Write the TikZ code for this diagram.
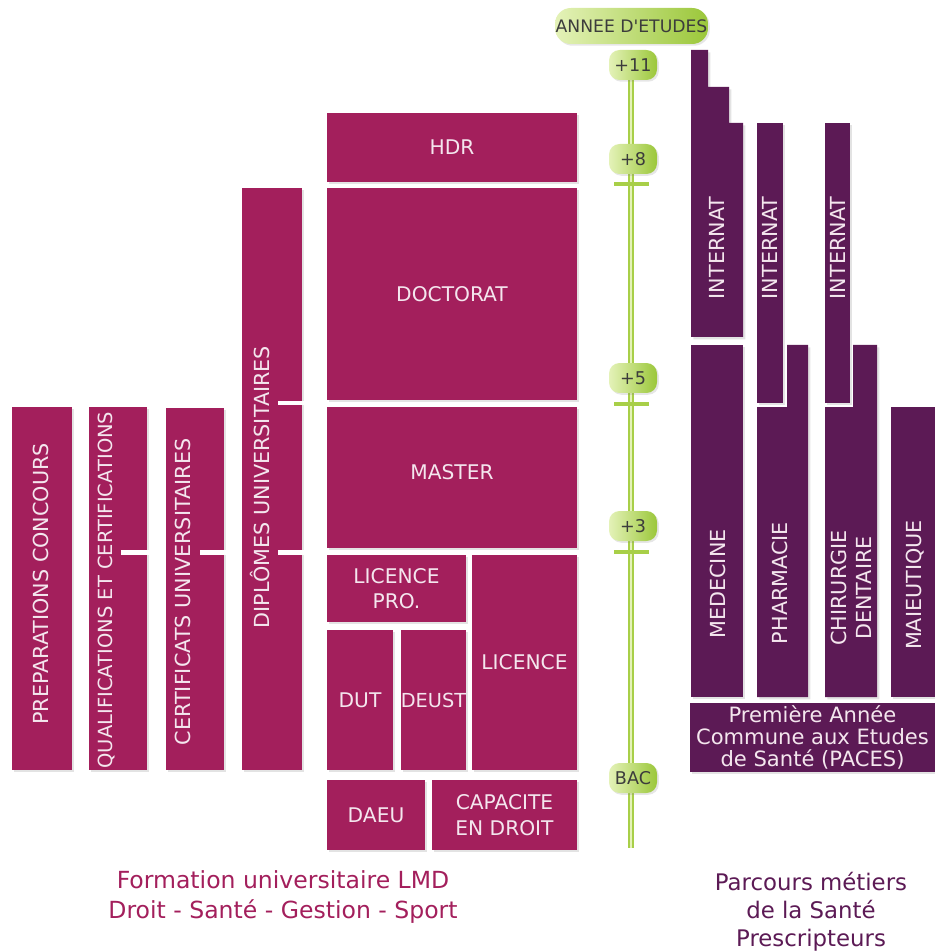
\documentclass[tikz,border=0pt]{standalone}
\usepackage{fontspec}
\setmainfont{DejaVu Sans}[Ligatures=TeXOff]
\usetikzlibrary{shadows,backgrounds}

\definecolor{lmdpink}{HTML}{A31F5C}
\definecolor{santepurple}{HTML}{5C1A55}
\definecolor{axisgreen}{HTML}{A8CF48}
\definecolor{pilllight}{HTML}{E4F2B8}
\definecolor{pilldark}{HTML}{9BC73A}
\definecolor{boxtext}{HTML}{F4E6EE}
\definecolor{pilltext}{HTML}{3C3C3C}

\begin{document}
\begin{tikzpicture}[x=0.02cm, y=-0.02cm,
  shade box/.style={drop shadow={shadow xshift=1.3pt, shadow yshift=-1.3pt, opacity=0.22}},
  lmd/.style={rectangle, fill=lmdpink, inner sep=0pt, outer sep=0pt, shade box,
    text=boxtext, align=center, font=\fontsize{11.5}{14.5}\selectfont},
  sante/.style={rectangle, fill=santepurple, inner sep=0pt, outer sep=0pt, shade box},
  upword/.style={rotate=90, text=boxtext, inner sep=0pt, align=center,
    font=\fontsize{11.8}{14}\selectfont},
  pill/.style={rectangle, rounded corners=6pt, left color=pilllight, right color=pilldark,
    text=pilltext, inner sep=0pt, minimum width=0.96cm, minimum height=0.6cm,
    font=\fontsize{10}{11}\selectfont, drop shadow={shadow xshift=1pt, shadow yshift=-1pt, opacity=0.2}},
  tick/.style={rectangle, fill=axisgreen, inner sep=0pt, minimum width=0.7cm, minimum height=0.08cm},
  notch/.style={fill=white}]
\useasboundingbox (0,0) rectangle (935,952);

% formation LMD, left columns
\node (prep) at (42,588.5) [lmd, minimum width=1.2cm, minimum height=7.26cm] {};
\node (prepl) at (41,584) [upword] {PREPARATIONS CONCOURS};

\node (qualif) at (118,588.5) [lmd, minimum width=1.16cm, minimum height=7.26cm] {};
\node (qualifl) at (107,590) [upword, font=\fontsize{11.1}{13}\selectfont] {QUALIFICATIONS ET CERTIFICATIONS};
\fill[notch] (121,550) rectangle (152,555);

\node (certif) at (195,589) [lmd, minimum width=1.16cm, minimum height=7.24cm] {};
\node (certifl) at (183,592) [upword] {CERTIFICATS UNIVERSITAIRES};
\fill[notch] (200,550) rectangle (229,555);

\node (dipl) at (272,479) [lmd, minimum width=1.2cm, minimum height=11.64cm] {};
\node (dipll) at (260,487) [upword] {DIPLÔMES UNIVERSITAIRES};
\fill[notch] (278,401) rectangle (307,405);
\fill[notch] (278,550) rectangle (307,555);

% LMD main column
\node (hdr) at (452,147.5) [lmd, minimum width=5cm, minimum height=1.38cm] {HDR};
\node (doct) at (452,294) [lmd, minimum width=5cm, minimum height=4.24cm] {DOCTORAT};
\node (master) at (452,477.5) [lmd, minimum width=5cm, minimum height=2.82cm] {\raisebox{6pt}{MASTER}};
\node (licpro) at (396.5,588.5) [lmd, minimum width=2.78cm, minimum height=1.34cm] {LICENCE\\PRO.};
\node (dut) at (360,700) [lmd, minimum width=1.32cm, minimum height=2.8cm] {\raisebox{-8pt}{DUT}};
\node (deust) at (433.5,700) [lmd, minimum width=1.3cm, minimum height=2.8cm,
  font=\fontsize{11}{13}\selectfont] {\raisebox{-8pt}{DEUST}};
\node (licence) at (524.5,662.5) [lmd, minimum width=2.1cm, minimum height=4.3cm] {LICENCE};
\node (daeu) at (376,815) [lmd, minimum width=1.96cm, minimum height=1.4cm] {DAEU};
\node (capa) at (504.5,815) [lmd, minimum width=2.9cm, minimum height=1.4cm] {CAPACITE\\EN DROIT};

% annees d'etudes
\node (annee) at (631.5,26) [pill, rounded corners=9pt, minimum width=3.06cm, minimum height=0.72cm,
  font=\fontsize{9.8}{11}\selectfont] {ANNEE D'ETUDES};
\node (p11) at (633,65) [pill] {+11};
\node (p8) at (633,159) [pill] {+8};
\node (p5) at (633,378) [pill] {+5};
\node (p3) at (633,526) [pill] {+3};
\node (bac) at (633,778) [pill] {BAC};
\coordinate (axisend) at (631,848);
\begin{scope}[on background layer]
  \draw[axisgreen, line width=3pt] (p11.south -| axisend) -- (axisend);
  \draw[pilllight, line width=0.7pt] (p11.south -| axisend) -- (axisend);
\end{scope}
\node (t8) at (631,184) [tick] {};
\node (t5) at (631,404) [tick] {};
\node (t3) at (631,552) [tick] {};

% parcours sante
\fill[santepurple, shade box] (691,50) -- (708,50) -- (708,87) -- (729,87) -- (729,123)
  -- (743,123) -- (743,337) -- (691,337) -- cycle;
\node (intern1) at (717,248) [upword] {INTERNAT};
\node (medecine) at (717,521) [sante, minimum width=1.04cm, minimum height=7.04cm] {};
\node (medecinel) at (718,584) [upword] {MEDECINE};

\node (intern2) at (770,263) [sante, minimum width=0.52cm, minimum height=5.6cm] {};
\node (intern2l) at (770,248) [upword] {INTERNAT};
\fill[santepurple, shade box] (787,345) -- (808,345) -- (808,697) -- (757,697) -- (757,407)
  -- (787,407) -- cycle;
\node (pharma) at (780,583) [upword] {PHARMACIE};

\node (intern3) at (837.5,263) [sante, minimum width=0.5cm, minimum height=5.6cm] {};
\node (intern3l) at (838,248) [upword] {INTERNAT};
\fill[santepurple, shade box] (853,345) -- (877,345) -- (877,697) -- (825,697) -- (825,407)
  -- (853,407) -- cycle;
\node (chir) at (851,588) [upword, font=\fontsize{11.8}{14}\selectfont] {CHIRURGIE\\DENTAIRE};

\node (maieu) at (913,552) [sante, minimum width=0.88cm, minimum height=5.8cm] {};
\node (maieul) at (915,585) [upword] {MAIEUTIQUE};

\node (paces) at (812.5,737.5) [sante, minimum width=4.9cm, minimum height=1.38cm,
  text=boxtext, align=center, font=\fontsize{12}{12.6}\selectfont]
  {Première Année\\Commune aux Etudes\\de Santé (PACES)};

% legendes
\node (lmdcap) at (283,897) [text=lmdpink, align=center, font=\fontsize{13.4}{17}\selectfont]
  {Formation universitaire LMD\\Droit - Santé - Gestion - Sport};
\node (santecap) at (811,912) [text=santepurple, align=center, font=\fontsize{13}{16}\selectfont]
  {Parcours métiers\\de la Santé\\Prescripteurs};
\end{tikzpicture}
\end{document}
